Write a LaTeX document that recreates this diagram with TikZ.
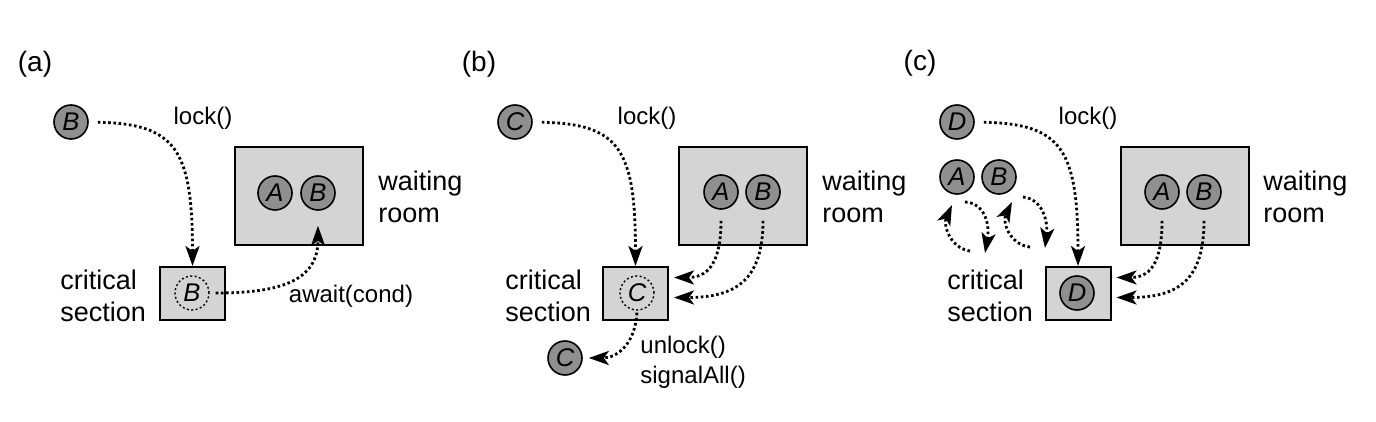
\documentclass[tikz,border=0pt]{standalone}
\usepackage{fontspec}
\setmainfont{Liberation Sans}
\usetikzlibrary{arrows.meta,calc}
\definecolor{boxgray}{gray}{0.83}
\definecolor{ballgray}{gray}{0.56}
\begin{document}
\begin{tikzpicture}[x=0.5pt,y=-0.5pt,
 ball/.style={circle,draw,line width=0.8pt,fill=ballgray,minimum size=17pt,inner sep=0pt,font=\fontsize{12.8}{14}\selectfont\itshape},
 ghost/.style={circle,draw,line width=0.7pt,dash pattern=on 1pt off 1.2pt,minimum size=17pt,inner sep=0pt,font=\fontsize{12.8}{14}\selectfont\itshape},
 room/.style={draw,line width=1pt,fill=boxgray,minimum width=64pt,minimum height=49pt,inner sep=0pt},
 crit/.style={draw,line width=1pt,fill=boxgray,minimum width=32.5pt,minimum height=26.5pt,inner sep=0pt},
 lbl/.style={font=\fontsize{12}{15}\selectfont,inner sep=0pt},
 big/.style={font=\fontsize{13.5}{15.8}\selectfont,align=left,anchor=west,inner sep=0pt},
 panel/.style={font=\fontsize{14}{16}\selectfont,inner sep=0pt},
 arr/.style={line width=1.4pt,dash pattern=on 1.3pt off 1.3pt,-{Stealth[length=10pt 0,width=7pt 0,inset=2.5pt 0]}}
]
\useasboundingbox (0,0) rectangle (1376,422);

% ---------------- (a)
\node[panel] (la) at (35,64) {(a)};
\node[ball] (aB0) at (71,122) {B};
\node[lbl] (alock) at (203,118) {lock()};
\node[room] (aroom) at (299,196) {};
\node[ball] (aA) at (275,193) {A};
\node[ball] (aB) at (318,193) {B};
\node[big] (awr) at (378,197) {waiting\\room};
\node[crit] (acs) at (192.5,293.5) {};
\node[ghost] (aBg) at (192,293) {B};
\node[big] (acrit) at (60,296) {critical\\section};
\node[lbl] (aaw) at (351,296) {await(cond)};
\draw[arr,shorten <=4.5pt] (aB0.east) .. controls +(87,2) and +(0,-117) .. (acs.north);
\draw[arr,shorten <=3pt,shorten >=7.5pt] (aBg.east) .. controls +(71,0) and +(0,70) .. (aB.south);

% ---------------- (b)
\node[panel] (lb) at (479,64) {(b)};
\node[ball] (bC0) at (515,122) {C};
\node[lbl] (block) at (647,118) {lock()};
\node[room] (broom) at (743,196) {};
\node[ball] (bA) at (721,192) {A};
\node[ball] (bB) at (763,192) {B};
\node[big] (bwr) at (822,197) {waiting\\room};
\node[crit] (bcs) at (635.5,293.5) {};
\node[ghost] (bCg) at (637,293) {C};
\node[big] (bcrit) at (505,296) {critical\\section};
\node[ball] (bC1) at (565,358) {C};
\node[lbl,align=left,anchor=west,font=\fontsize{12}{15}\selectfont] (bun) at (640,362) {unlock()\\signalAll()};
\draw[arr,shorten <=4.5pt] (bC0.east) .. controls +(87,2) and +(0,-117) .. (bcs.north);
\draw[arr,shorten <=5.5pt,shorten >=2.5pt] (bA.south) .. controls +(0,56) and +(37,0) .. ($(bcs.east)+(0,-16)$);
\draw[arr,shorten <=5.5pt,shorten >=2.5pt] (bB.south) .. controls +(0,70) and +(67,0) .. ($(bcs.east)+(0,4)$);
\draw[arr,shorten <=1pt,shorten >=3pt] (bCg.south) .. controls +(-2,35) and +(33,0) .. (bC1.east);

% ---------------- (c)
\node[panel] (lc) at (920,63) {(c)};
\node[ball] (cD0) at (957,122) {D};
\node[lbl] (clock) at (1088,118) {lock()};
\node[ball] (cA0) at (957,177) {A};
\node[ball] (cB0) at (999,177) {B};
\node[room] (croom) at (1184.5,196) {};
\node[ball] (cA) at (1162,192) {A};
\node[ball] (cB) at (1204,192) {B};
\node[big] (cwr) at (1263,197) {waiting\\room};
\node[crit] (ccs) at (1078,293.5) {};
\node[ball] (cD) at (1077,293) {D};
\node[big] (ccrit) at (947,296) {critical\\section};
\draw[arr,shorten <=4.5pt] (cD0.east) .. controls +(87,2) and +(0,-117) .. (ccs.north);
\draw[arr,shorten <=5.5pt,shorten >=2.5pt] (cA.south) .. controls +(0,56) and +(37,0) .. ($(ccs.east)+(0,-16)$);
\draw[arr,shorten <=5.5pt,shorten >=2.5pt] (cB.south) .. controls +(0,70) and +(67,0) .. ($(ccs.east)+(0,4)$);

\coordinate (ca1s) at (965,202);
\coordinate (ca1e) at (985,253);
\coordinate (ca2s) at (970,251);
\coordinate (ca2e) at (952,205);
\coordinate (cb1s) at (1023,197);
\coordinate (cb1e) at (1045,248);
\coordinate (cb2s) at (1030,247);
\coordinate (cb2e) at (1012,202);
\draw[arr] (ca1s) .. controls (985,203) and (990,225) .. (ca1e);
\draw[arr] (ca2s) .. controls (950,248) and (943,225) .. (ca2e);
\draw[arr] (cb1s) .. controls (1043,199) and (1048,222) .. (cb1e);
\draw[arr] (cb2s) .. controls (1010,245) and (1002,222) .. (cb2e);
\end{tikzpicture}
\end{document}
